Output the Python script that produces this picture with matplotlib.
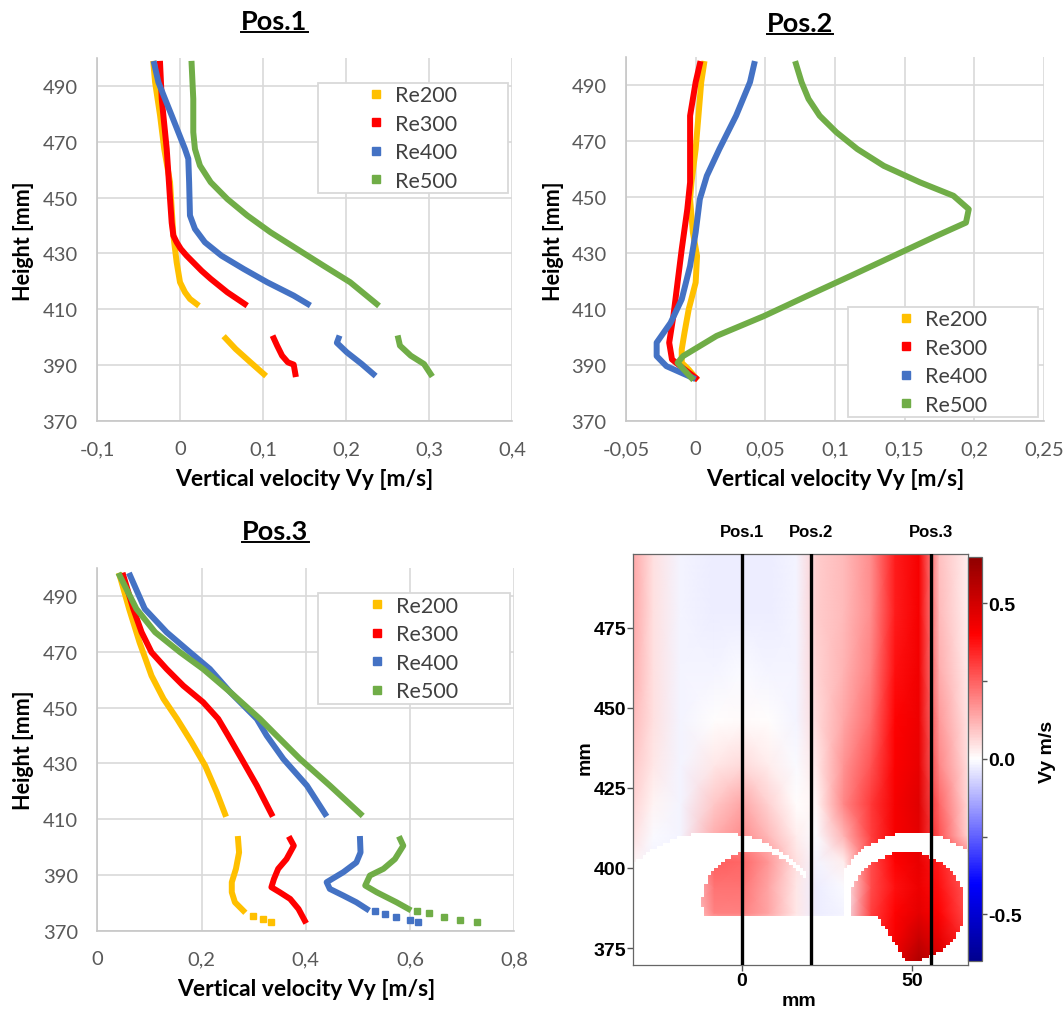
import numpy as np
import matplotlib
matplotlib.use('Agg')
import matplotlib.pyplot as plt
from matplotlib.colors import LinearSegmentedColormap
from matplotlib.lines import Line2D
from matplotlib.patches import Rectangle
from matplotlib.ticker import FuncFormatter, MultipleLocator, FixedLocator
import matplotlib.transforms as mtransforms

plt.rcParams['axes.unicode_minus'] = False

# === data : (height [mm], Vy [m/s]) ===
RE_LABELS = ['Re200', 'Re300', 'Re400', 'Re500']
RE_COLORS = ['#FFC000', '#FF0000', '#4472C4', '#70AD47']
HEIGHT_TICKS = [370, 390, 410, 430, 450, 470, 490]
GAP = (np.nan, np.nan)

P1_RE200 = [(497.9, -0.032), (491.3, -0.030), (479.4, -0.024), (467.4, -0.019), (455.5, -0.012),
            (445.9, -0.010), (436.4, -0.008), (426.8, -0.004), (419.7, 0.000), (416.1, 0.006),
            (413.7, 0.012), (411.9, 0.020), GAP,
            (399.6, 0.055), (395.8, 0.067), (391.0, 0.085), (386.8, 0.101)]
P1_RE300 = [(497.9, -0.024), (485.3, -0.022), (467.4, -0.016), (449.5, -0.012), (441.0, -0.010),
            (436.4, -0.008), (434.0, -0.004), (431.6, 0.001), (429.2, 0.008), (426.8, 0.016),
            (423.8, 0.026), (420.9, 0.037), (416.1, 0.057), (411.9, 0.078), GAP,
            (399.6, 0.113), (397.0, 0.117), (393.4, 0.123), (391.0, 0.130), (390.2, 0.137),
            (386.8, 0.139)]
P1_RE400 = [(497.9, -0.031), (491.3, -0.026), (485.3, -0.018), (479.4, -0.010), (473.4, -0.002),
            (467.4, 0.006), (463.9, 0.010), (455.5, 0.011), (443.6, 0.012), (438.8, 0.018),
            (434.0, 0.030), (429.2, 0.050), (424.4, 0.077), (419.7, 0.105), (414.9, 0.137),
            (411.9, 0.154), GAP,
            (399.6, 0.191), (398.0, 0.189), (394.6, 0.201), (390.4, 0.219), (386.8, 0.233)]
P1_RE500 = [(497.9, 0.014), (485.3, 0.016), (473.4, 0.016), (467.4, 0.018), (461.5, 0.024),
            (455.5, 0.037), (449.5, 0.057), (443.6, 0.081), (437.6, 0.109), (431.6, 0.141),
            (425.6, 0.173), (419.7, 0.205), (411.9, 0.237), GAP,
            (399.6, 0.263), (397.0, 0.265), (393.4, 0.278), (390.4, 0.294), (386.8, 0.302)]

P2_RE200 = [(497.5, 0.006), (491.0, 0.004), (479.0, 0.002), (467.1, 0.000), (455.2, -0.003),
            (449.2, -0.004), (437.3, -0.002), (428.9, 0.001), (419.4, 0.000), (409.8, -0.005),
            (401.5, -0.008), (395.5, -0.010), (390.7, -0.010), (388.3, -0.005), (385.3, 0.000)]
P2_RE300 = [(497.5, 0.003), (491.0, 0.000), (479.0, -0.004), (467.1, -0.004), (455.2, -0.004),
            (445.6, -0.006), (431.3, -0.010), (419.4, -0.013), (407.4, -0.016), (397.9, -0.019),
            (391.9, -0.017), (389.5, -0.011), (385.3, 0.000)]
P2_RE400 = [(497.5, 0.042), (491.0, 0.039), (479.0, 0.029), (467.1, 0.017), (457.5, 0.008),
            (449.2, 0.003), (437.3, 0.000), (425.3, -0.004), (413.4, -0.010), (405.0, -0.018),
            (397.9, -0.028), (393.1, -0.028), (389.5, -0.021), (385.3, -0.002)]
P2_RE500 = [(497.5, 0.072), (491.0, 0.076), (485.0, 0.081), (479.0, 0.089), (473.1, 0.101),
            (467.1, 0.116), (461.1, 0.135), (455.2, 0.161), (450.4, 0.185), (445.6, 0.196),
            (440.8, 0.194), (436.1, 0.173), (428.9, 0.142), (421.7, 0.111), (414.6, 0.080),
            (407.4, 0.049), (400.3, 0.015), (393.1, -0.009), (390.7, -0.013), (385.3, -0.003)]

P3_RE200 = [(497.4, 0.043), (485.5, 0.061), (473.5, 0.081), (461.5, 0.104), (453.2, 0.127),
            (446.0, 0.153), (437.6, 0.181), (429.2, 0.207), (419.7, 0.229), (411.9, 0.245), GAP,
            (402.9, 0.270), (398.1, 0.272), (392.2, 0.266), (387.4, 0.258), (383.8, 0.258),
            (380.2, 0.264), (377.2, 0.280)]
P3_RE300 = [(497.4, 0.050), (485.5, 0.069), (477.1, 0.085), (469.9, 0.104), (463.9, 0.133),
            (457.9, 0.165), (452.0, 0.203), (446.0, 0.232), (440.0, 0.251), (431.6, 0.277),
            (422.1, 0.306), (411.9, 0.334), GAP,
            (402.9, 0.370), (400.5, 0.377), (395.7, 0.363), (392.2, 0.347), (388.6, 0.339),
            (385.6, 0.334), (383.8, 0.350), (381.4, 0.370), (377.8, 0.386), (373.6, 0.398)]
P3_RE400 = [(497.4, 0.063), (485.5, 0.091), (477.1, 0.133), (469.9, 0.178), (463.9, 0.216),
            (455.6, 0.255), (446.0, 0.306), (440.0, 0.325), (431.6, 0.357), (422.1, 0.402),
            (411.9, 0.437), GAP,
            (402.9, 0.504), (398.1, 0.505), (394.5, 0.497), (391.0, 0.472), (387.4, 0.440),
            (385.0, 0.446), (382.6, 0.472), (380.2, 0.497), (377.8, 0.517)]
P3_RE500 = [(497.4, 0.043), (485.5, 0.075), (477.1, 0.111), (469.9, 0.159), (463.9, 0.203),
            (455.6, 0.255), (446.0, 0.312), (440.0, 0.344), (431.6, 0.389), (422.1, 0.446),
            (411.9, 0.505), GAP,
            (402.9, 0.581), (400.5, 0.587), (395.7, 0.571), (392.2, 0.549), (389.8, 0.523),
            (386.2, 0.514), (383.8, 0.536), (380.2, 0.574), (377.8, 0.597)]
# sparse points at the bottom of Pos.3
P3_RE200_TAIL = [(375.4, 0.299), (374.3, 0.317), (373.3, 0.334)]
P3_RE300_TAIL = []
P3_RE400_TAIL = [(377.0, 0.533), (376.0, 0.551), (374.8, 0.573), (373.8, 0.600), (373.0, 0.616)]
P3_RE500_TAIL = [(377.0, 0.614), (376.2, 0.637), (374.8, 0.666), (373.8, 0.696), (373.0, 0.728)]

# === heatmap field (Vy m/s), coarse grid ===
HM_X = [-32, -26, -18, -8, 0, 8, 16, 22, 30, 38, 45, 52, 58, 66]
HM_Y = [370, 378, 386, 394, 402, 410, 420, 432, 446, 462, 480, 498]
HM_V = [
    [0.00, 0.00, 0.00, 0.00, 0.00, 0.00, 0.00, 0.00, 0.00, 0.34, 0.46, 0.58, 0.50, 0.35],
    [0.00, 0.00, 0.00, 0.00, 0.00, 0.00, 0.00, 0.00, 0.00, 0.32, 0.42, 0.52, 0.45, 0.34],
    [0.00, 0.00, 0.00, 0.20, 0.20, 0.14, 0.04, -0.03, -0.02, 0.30, 0.40, 0.46, 0.40, 0.28],
    [0.00, -0.02, -0.02, 0.22, 0.22, 0.14, 0.04, -0.03, -0.01, 0.28, 0.38, 0.44, 0.38, 0.26],
    [0.02, -0.02, -0.02, 0.25, 0.24, 0.16, 0.05, -0.02, 0.03, 0.28, 0.40, 0.45, 0.36, 0.22],
    [0.05, -0.01, -0.02, 0.13, 0.18, 0.11, 0.03, -0.01, 0.12, 0.30, 0.42, 0.46, 0.27, 0.08],
    [0.07, 0.02, -0.02, 0.09, 0.14, 0.07, 0.00, 0.02, 0.19, 0.31, 0.42, 0.47, 0.24, 0.07],
    [0.09, 0.04, -0.02, 0.04, 0.06, 0.03, -0.01, 0.04, 0.17, 0.27, 0.41, 0.45, 0.19, 0.06],
    [0.11, 0.05, -0.02, 0.00, 0.01, 0.00, -0.02, 0.06, 0.14, 0.23, 0.40, 0.44, 0.16, 0.05],
    [0.13, 0.05, -0.02, -0.02, -0.01, -0.02, -0.02, 0.07, 0.12, 0.20, 0.38, 0.43, 0.13, 0.04],
    [0.14, 0.05, -0.02, -0.03, -0.03, -0.03, -0.02, 0.08, 0.11, 0.18, 0.36, 0.42, 0.11, 0.03],
    [0.14, 0.05, -0.02, -0.03, -0.03, -0.03, -0.02, 0.08, 0.11, 0.18, 0.36, 0.42, 0.10, 0.03],
]
POS_X = [0, 20.2, 55.5]
POS_LABELS = ['Pos.1', 'Pos.2', 'Pos.3']

# === styles ===
FONT = 'Lato'
GRID = '#D9D9D9'
AXIS = '#C6C6C6'
TICK_TXT = '#595959'
W, H = 1064, 1012

fig = plt.figure(figsize=(W / 100, H / 100), dpi=100)
fig.patch.set_facecolor('white')


def px_rect(x0, y0, x1, y1):
    # pixel box (top-left origin) -> figure fraction rect
    return [x0 / W, 1 - y1 / H, (x1 - x0) / W, (y1 - y0) / H]


def comma_fmt(v, pos):
    v = round(v, 3)
    if v == 0:
        return '0'
    return ('%g' % v).replace('.', ',')


def excel_panel(rect, xlim, xstep, series, tails, legend_box):
    ax = fig.add_axes(rect)
    ax.set_xlim(*xlim)
    ax.set_ylim(370, 500)
    ax.xaxis.set_major_locator(MultipleLocator(xstep))
    ax.xaxis.set_major_formatter(FuncFormatter(comma_fmt))
    ax.yaxis.set_major_locator(FixedLocator(HEIGHT_TICKS))
    ax.grid(True, color=GRID, lw=1.2)
    ax.set_axisbelow(True)
    for s in ['top', 'right']:
        ax.spines[s].set_visible(False)
    for s in ['left', 'bottom']:
        ax.spines[s].set_color(AXIS)
        ax.spines[s].set_linewidth(1.2)
    ax.tick_params(length=0, pad=14, labelsize=14.5, labelcolor=TICK_TXT)
    for lab in ax.get_xticklabels() + ax.get_yticklabels():
        lab.set_fontfamily(FONT)

    for data, color in zip(series, RE_COLORS):
        arr = np.array(data, dtype=float)
        ax.plot(arr[:, 1], arr[:, 0], color=color, lw=4.3,
                solid_capstyle='projecting', solid_joinstyle='round', zorder=3)
    for data, color in zip(tails, RE_COLORS):
        if len(data) == 0:
            continue
        arr = np.array(data, dtype=float)
        ax.plot(arr[:, 1], arr[:, 0], ls='none', marker='s', ms=4.3,
                color=color, mec=color, zorder=3)

    # legend box
    x0, y0, x1, y1 = legend_box
    ax.add_patch(Rectangle((x0, y0), x1 - x0, y1 - y0, transform=ax.transAxes,
                           fc='white', ec=GRID, lw=1.3, zorder=4))
    handles = [Line2D([], [], ls='none', marker='s', ms=5.2, color=c) for c in RE_COLORS]
    leg = ax.legend(handles, RE_LABELS, loc='center',
                    bbox_to_anchor=((x0 + x1) / 2, (y0 + y1) / 2),
                    frameon=False, labelspacing=0.4, handlelength=0.7,
                    handletextpad=0.55, borderpad=0, labelcolor='#404040',
                    prop={'family': FONT, 'size': 15.5})
    leg.set_zorder(5)
    return ax


# --- Pos.1 ---
excel_panel(px_rect(97, 59, 512, 422), (-0.1, 0.4), 0.1,
            [P1_RE200, P1_RE300, P1_RE400, P1_RE500], [[], [], [], []],
            (0.5325, 0.6281, 0.9904, 0.9311))
# --- Pos.2 ---
excel_panel(px_rect(626, 58, 1044, 421.7), (-0.05, 0.25), 0.05,
            [P2_RE200, P2_RE300, P2_RE400, P2_RE500], [[], [], [], []],
            (0.5311, 0.0102, 0.9856, 0.3126))
# --- Pos.3 ---
excel_panel(px_rect(97.3, 569.4, 514.3, 931.7), (0, 0.8), 0.2,
            [P3_RE200, P3_RE300, P3_RE400, P3_RE500],
            [P3_RE200_TAIL, P3_RE300_TAIL, P3_RE400_TAIL, P3_RE500_TAIL],
            (0.5293, 0.6257, 0.9897, 0.9321))

# axis titles
for (x, y) in [(24, 241), (553, 241), (24, 750)]:
    fig.text(x / W, 1 - y / H, 'Height [mm]', rotation=90, ha='center', va='center',
             fontsize=15.5, fontweight='bold', family=FONT, color='black')
for (x, y) in [(304, 480), (835, 480), (306, 990)]:
    fig.text(x / W, 1 - y / H, 'Vertical velocity Vy [m/s]', ha='center', va='center',
             fontsize=16.5, fontweight='bold', family=FONT, color='black')

# underlined panel titles
titles = []
for (label, x, y) in [('Pos.1', 274.5, 30), ('Pos.2', 800, 31.5), ('Pos.3', 275.5, 540)]:
    t = fig.text(x / W, 1 - y / H, label, ha='center', va='baseline',
                 fontsize=19.5, fontweight='bold', family=FONT, color='black')
    titles.append((t, y))

# === heatmap ===
cmap = LinearSegmentedColormap.from_list(
    'vy', [(0.0, '#00008F'), (0.19, '#0000FF'), (0.5, '#FFFFFF'),
           (0.81, '#FF0000'), (1.0, '#8F0000')])
HM_FONT = 'Liberation Sans'

hx = fig.add_axes(px_rect(633, 555, 968, 965.7))
mesh = hx.pcolormesh(HM_X, HM_Y, np.array(HM_V), shading='gouraud',
                     cmap=cmap, vmin=-0.65, vmax=0.65, zorder=1)

# white mask: cylinder walls and regions without data (1 mm cells)
gx = np.arange(-32, 67) + 0.5
gy = np.arange(369, 499) + 0.5
GX, GY = np.meshgrid(gx, gy)
in_wall1 = ((GX + 7.9) ** 2 + (GY - 377.6) ** 2 <= 33.7 ** 2) & \
    ~((GX > 17) & (GY < 397))
in_wall2 = ((GX - 50.5) ** 2 + (GY - 388.4) ** 2 <= 22.9 ** 2) & \
    ~((GX < 30.5) & (GY < 399))
blob1 = ((GX - 4) ** 2 + (GY - 389.7) ** 2 <= 15.6 ** 2) & (GY >= 385.5)
blob2 = ((GX - 48.5) ** 2 + (GY - 388) ** 2 <= 17 ** 2) & \
    ~((GY < 385) & (GX < 40 + (385 - GY) * 0.6))
valid = ((GY >= 385.5) & ~in_wall1 & ~in_wall2) | blob1 | blob2
mask = np.zeros(GX.shape + (4,))
mask[..., :3] = 1.0
mask[..., 3] = np.where(valid, 0.0, 1.0)
hx.imshow(mask, extent=(-32, 67, 369, 499), origin='lower', interpolation='nearest',
          aspect='auto', zorder=2)

hx.set_xlim(-31.9, 66.4)
hx.set_ylim(369.8, 498.0)
for xp in POS_X:
    hx.axvline(xp, color='black', lw=2.4, zorder=3)
trans = mtransforms.blended_transform_factory(hx.transData, hx.transAxes)
for xp, lab in zip(POS_X, POS_LABELS):
    hx.text(xp, 1.054, lab, transform=trans, ha='center', va='center',
            fontsize=12, fontweight='bold', family=HM_FONT)

hx.set_xticks([0, 50])
hx.set_yticks([375, 400, 425, 450, 475])
hx.tick_params(direction='out', length=4, width=1, color='#555555', pad=1,
               labelsize=14)
for lab in hx.get_xticklabels() + hx.get_yticklabels():
    lab.set_fontfamily(HM_FONT)
    lab.set_fontweight('bold')
for s in hx.spines.values():
    s.set_color('#666666')
    s.set_linewidth(0.9)

fig.text(585 / W, 1 - 758 / H, 'mm', rotation=90, ha='center', va='center',
         fontsize=14, fontweight='bold', family=HM_FONT)
fig.text(799 / W, 1 - 1002 / H, 'mm', ha='center', va='center',
         fontsize=14, fontweight='bold', family=HM_FONT)

cax = fig.add_axes(px_rect(968, 557.7, 982, 962))
cb = fig.colorbar(mesh, cax=cax)
cb.set_ticks([-0.5, 0.0, 0.5])
cb.ax.set_yticklabels(['-0.5', '0.0', '0.5'])
cb.ax.yaxis.set_minor_locator(FixedLocator([-0.25, 0.25]))
cb.ax.tick_params(which='both', direction='out', length=3.5, width=1,
                  color='#555555', pad=1, labelsize=14)
for lab in cb.ax.get_yticklabels():
    lab.set_fontfamily(HM_FONT)
    lab.set_fontweight('bold')
cb.outline.set_edgecolor('#666666')
cb.outline.set_linewidth(0.9)
fig.text(1047 / W, 1 - 752 / H, 'Vy m/s', rotation=90, ha='center', va='center',
         fontsize=14, fontweight='bold', family=HM_FONT)

# underline titles
fig.canvas.draw()
renderer = fig.canvas.get_renderer()
for t, y in titles:
    bb = t.get_window_extent(renderer)
    yy = 1 - (y + 3.2) / H
    fig.add_artist(Line2D([bb.x0 / W, bb.x1 / W], [yy, yy], transform=fig.transFigure,
                          color='black', lw=1.4))

fig.savefig('out.png', dpi=100, facecolor='white')
